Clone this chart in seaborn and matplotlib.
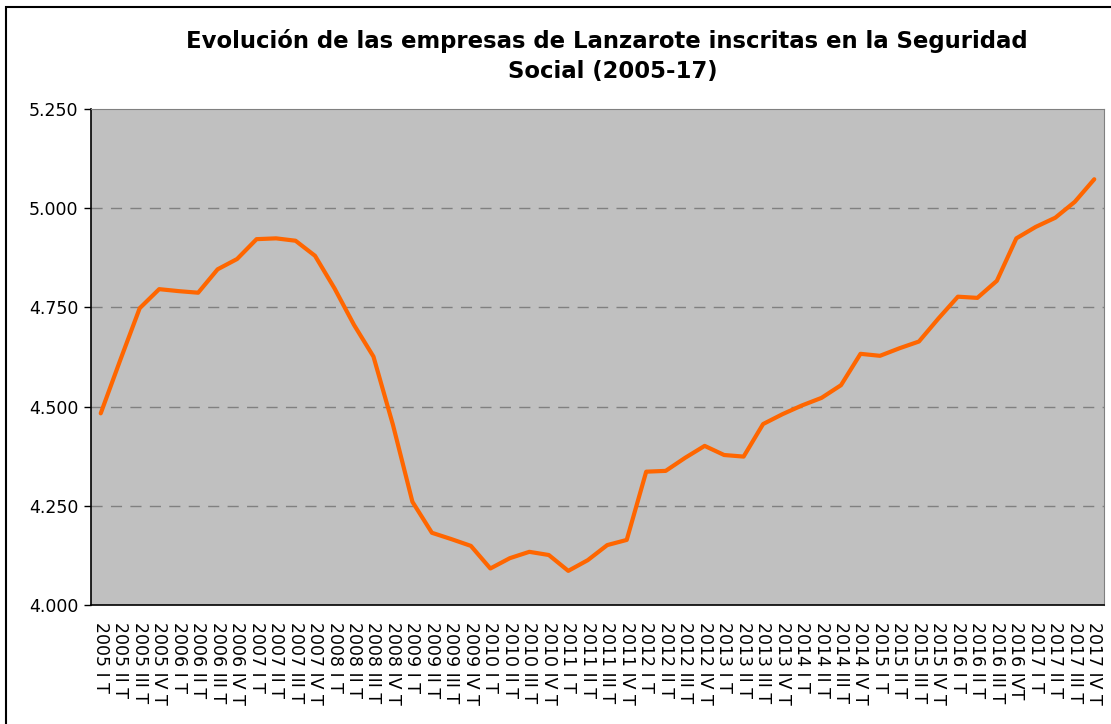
import numpy as np
import pandas as pd
import matplotlib
matplotlib.use('Agg')
import matplotlib.pyplot as plt
import seaborn as sns
from matplotlib.patches import Rectangle

years = list(range(2005, 2018))
quarters = ['I T', 'II T', 'III T', 'IV T']
labels = [f'{y} {q}' for y in years for q in quarters]
labels[labels.index('2016 IV T')] = '2016 IVT'

empresas = [4483, 4617, 4748, 4796, 4791, 4787, 4846, 4872,
            4922, 4924, 4918, 4880, 4798, 4706, 4626, 4454,
            4260, 4182, 4166, 4149, 4092, 4118, 4134, 4126,
            4086, 4113, 4151, 4164, 4336, 4338, 4371, 4401,
            4378, 4374, 4456, 4481, 4503, 4522, 4554, 4633,
            4628, 4647, 4664, 4722, 4777, 4774, 4817, 4924,
            4953, 4976, 5016, 5073]

df = pd.DataFrame({'trimestre': labels, 'empresas': empresas})

sns.set_style('white')
plt.rcParams['font.family'] = ['DejaVu Sans']
plt.rcParams['text.color'] = 'black'
plt.rcParams['xtick.color'] = 'black'
plt.rcParams['ytick.color'] = 'black'

fig = plt.figure(figsize=(11.11, 7.24), dpi=100)
ax = fig.add_axes([91/1111, 1-605/724, 1013/1111, 496/724])
# outer chart frame
fig.patches.append(Rectangle((6/1111, -0.1), 1.2, 1-7/724+0.1, transform=fig.transFigure,
                             fill=False, edgecolor='black', linewidth=1.5))

ax.set_facecolor('#c0c0c0')
sns.lineplot(data=df, x='trimestre', y='empresas', sort=False, color='#ff6600',
             linewidth=3, ax=ax)

ax.set_ylim(4000, 5250)
ax.set_xlim(-0.5, len(labels)-0.5)
ax.set_yticks([4000, 4250, 4500, 4750, 5000, 5250])
ax.set_yticklabels(['4.000', '4.250', '4.500', '4.750', '5.000', '5.250'], fontsize=12.5)
ax.set_xticks(range(len(labels)))
ax.set_xticklabels(labels, rotation=-90, fontsize=12.5, va='top', ha='center')
ax.tick_params(axis='x', length=0, pad=12)
ax.tick_params(axis='y', length=5, width=1, color='black', direction='out', left=True, pad=4)
for v in [4250, 4500, 4750, 5000]:
    ax.axhline(v, color='#808080', linewidth=1, linestyle=(0, (8, 6)), zorder=1)
ax.set_xlabel('')
ax.set_ylabel('')
ax.spines['left'].set_color('black')
ax.spines['bottom'].set_color('black')
ax.spines['left'].set_linewidth(1.2)
ax.spines['bottom'].set_linewidth(1.2)
ax.spines['top'].set_color('#808080')
ax.spines['right'].set_color('#808080')

fig.text(607/1111, 1-48/724, 'Evolución de las empresas de Lanzarote inscritas en la Seguridad',
         ha='center', va='baseline', fontsize=16.4, fontweight='bold')
fig.text(613/1111, 1-78/724, 'Social (2005-17)',
         ha='center', va='baseline', fontsize=16.4, fontweight='bold')

fig.savefig('out.png', dpi=100)
